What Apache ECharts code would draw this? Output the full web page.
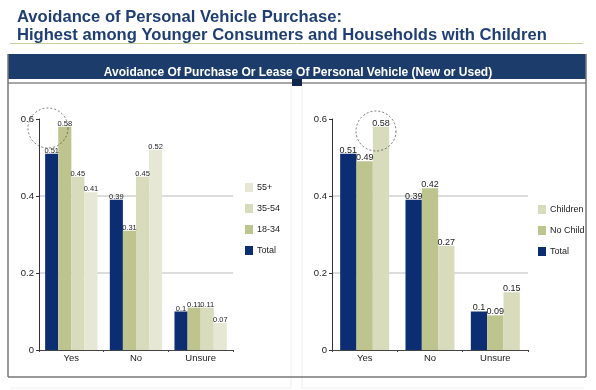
<!DOCTYPE html>
<html><head><meta charset="utf-8">
<script src="https://cdn.jsdelivr.net/npm/echarts@6/dist/echarts.min.js"></script>
<style>html,body{margin:0;padding:0;background:#fff}#c{width:596px;height:390px}</style>
</head><body><div id="c"></div>
<script>
var categories = ['Yes', 'No', 'Unsure'];
// Left chart: by age
var ageSeriesNames = ['Total', '18-34', '35-54', '55+'];
var ageTotal = [0.51, 0.39, 0.1];
var age1834 = [0.58, 0.31, 0.11];
var age3554 = [0.45, 0.45, 0.11];
var age55 = [0.41, 0.52, 0.07];
// Right chart: by household
var hhSeriesNames = ['Total', 'No Child', 'Children'];
var hhTotal = [0.51, 0.39, 0.1];
var hhNoChild = [0.49, 0.42, 0.09];
var hhChildren = [0.58, 0.27, 0.15];
var yTicks = [0, 0.2, 0.4, 0.6];

var FONT = 'Liberation Sans, Arial, sans-serif';
var C_TOTAL = '#0c2d72', C_MID = '#bec48e', C_LIGHT = '#d8dcbc', C_PALE = '#e6e8d5';

function yAxis(idx) {
  return {
    type: 'value', gridIndex: idx, min: yTicks[0], max: yTicks[yTicks.length - 1], interval: 0.2,
    axisLine: {show: true, lineStyle: {color: '#333', width: 1}},
    axisTick: {show: true, length: 3, lineStyle: {color: '#333'}},
    axisLabel: {color: '#222', fontSize: 9.5, fontFamily: FONT, margin: 5,
      formatter: function (v) { return String(Math.round(v * 10) / 10); }},
    splitLine: {show: true, lineStyle: {color: ['transparent', '#dcdcdc', '#dcdcdc', 'transparent'], width: 2}}
  };
}
function xAxis(idx) {
  return {
    type: 'category', gridIndex: idx, data: categories,
    axisLine: {show: true, lineStyle: {color: '#444', width: 1}},
    axisTick: {show: true, length: 2, lineStyle: {color: '#444'}},
    axisLabel: {color: '#222', fontSize: 9.5, fontFamily: FONT, margin: 3}
  };
}
function bar(name, data, color, idx, fs, gap) {
  return {
    name: name, type: 'bar', data: data, xAxisIndex: idx, yAxisIndex: idx,
    barGap: '0%', barCategoryGap: gap,
    itemStyle: {color: color},
    label: {show: true, position: 'top', distance: -1, color: '#222', fontSize: fs, fontFamily: FONT},
    emphasis: {disabled: true}
  };
}
function legend(names, left, top) {
  return {data: names, orient: 'vertical', left: left, top: top, padding: 0,
    icon: 'rect', itemWidth: 8, itemHeight: 9, itemGap: 12, selectedMode: false,
    textStyle: {fontSize: 9, color: '#222', fontFamily: FONT, padding: [0, 0, 0, -1]}};
}

var chart = echarts.init(document.getElementById('c'), null, {renderer: 'canvas'});
chart.setOption({
  animation: false,
  textStyle: {fontFamily: FONT},
  title: {
    text: 'Avoidance of Personal Vehicle Purchase:\nHighest among Younger Consumers and Households with Children',
    left: 12, top: 3,
    textStyle: {color: '#1f3f74', fontSize: 16.6, fontWeight: 'bold', fontFamily: FONT, lineHeight: 18}
  },
  grid: [
    {left: 39, right: 363, top: 119, bottom: 40},
    {left: 332, right: 68, top: 119, bottom: 40}
  ],
  xAxis: [xAxis(0), xAxis(1)],
  yAxis: [yAxis(0), yAxis(1)],
  legend: [
    legend(['55+', '35-54', '18-34', 'Total'], 245, 183),
    legend(['Children', 'No Child', 'Total'], 538, 205)
  ],
  series: [
    bar(ageSeriesNames[0], ageTotal, C_TOTAL, 0, 7.5, '19%'),
    bar(ageSeriesNames[1], age1834, C_MID, 0, 7.5, '19%'),
    bar(ageSeriesNames[2], age3554, C_LIGHT, 0, 7.5, '19%'),
    bar(ageSeriesNames[3], age55, C_PALE, 0, 7.5, '19%'),
    bar(hhSeriesNames[0], hhTotal, C_TOTAL, 1, 9, '25%'),
    bar(hhSeriesNames[1], hhNoChild, C_MID, 1, 9, '25%'),
    bar(hhSeriesNames[2], hhChildren, C_LIGHT, 1, 9, '25%')
  ],
  graphic: [
    {type: 'line', shape: {x1: 10, y1: 43.5, x2: 583, y2: 43.5}, style: {stroke: '#c8cf95', lineWidth: 1}, z: 1},
    {type: 'rect', shape: {x: 8, y: 54, width: 578, height: 25}, style: {fill: '#1c3d6c'}, z: 1},
    {type: 'text', x: 298, y: 72.5, style: {text: 'Avoidance Of Purchase Or Lease Of Personal Vehicle (New or Used)',
      fill: '#fff', font: 'bold 12px ' + FONT, textAlign: 'center', textVerticalAlign: 'middle'}, z: 2},
    {type: 'line', shape: {x1: 8, y1: 83, x2: 586, y2: 83}, style: {stroke: '#8a8a8a', lineWidth: 1.5}, z: 1},
    {type: 'line', shape: {x1: 8, y1: 54, x2: 8, y2: 377}, style: {stroke: '#777', lineWidth: 1.5}, z: 1},
    {type: 'line', shape: {x1: 586, y1: 54, x2: 586, y2: 377}, style: {stroke: '#777', lineWidth: 1.5}, z: 1},
    {type: 'line', shape: {x1: 8, y1: 377, x2: 586, y2: 377}, style: {stroke: '#777', lineWidth: 1.5}, z: 1},
    {type: 'line', shape: {x1: 291, y1: 86, x2: 291, y2: 388}, style: {stroke: '#eeeeee', lineWidth: 1}, z: 0},
    {type: 'line', shape: {x1: 302, y1: 86, x2: 302, y2: 388}, style: {stroke: '#eeeeee', lineWidth: 1}, z: 0},
    {type: 'line', shape: {x1: 10, y1: 388, x2: 291, y2: 388}, style: {stroke: '#f0f0f0', lineWidth: 1}, z: 0},
    {type: 'line', shape: {x1: 302, y1: 388, x2: 584, y2: 388}, style: {stroke: '#f0f0f0', lineWidth: 1}, z: 0},
    {type: 'rect', shape: {x: 292, y: 79, width: 10, height: 7}, style: {fill: '#10264a'}, z: 2},
    {type: 'circle', shape: {cx: 48, cy: 128, r: 20}, style: {fill: 'none', stroke: '#555', lineWidth: 0.8, lineDash: [2, 2]}, z: 10},
    {type: 'circle', shape: {cx: 376, cy: 131, r: 20}, style: {fill: 'none', stroke: '#555', lineWidth: 0.8, lineDash: [2, 2]}, z: 10}
  ]
});
</script>
</body></html>
